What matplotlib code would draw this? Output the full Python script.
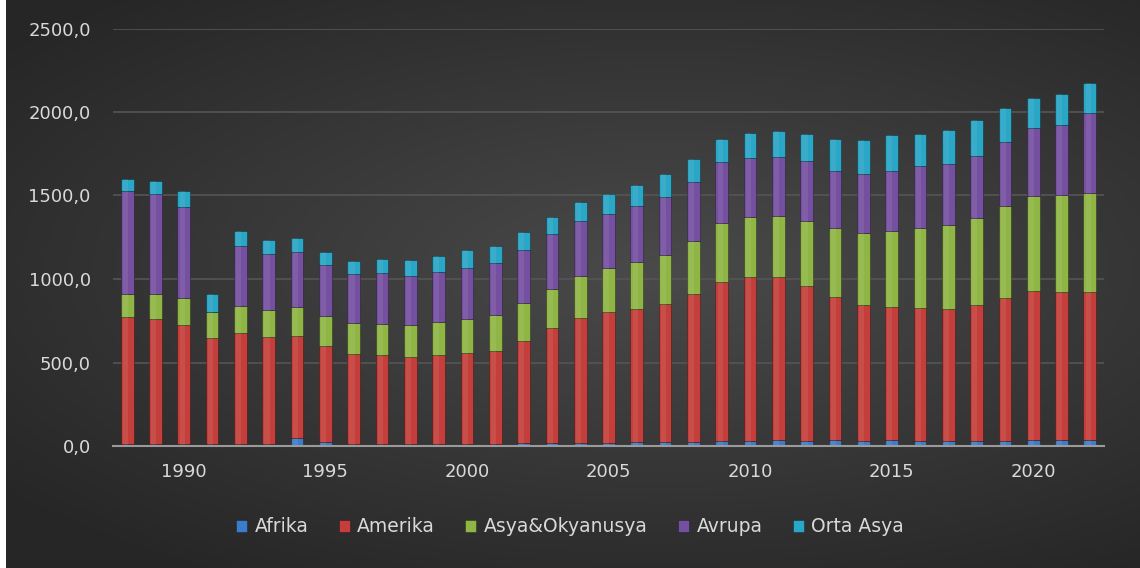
import numpy as np
import matplotlib
matplotlib.use("Agg")
import matplotlib.pyplot as plt
from matplotlib.ticker import FuncFormatter

years = list(range(1988, 2023))
afrika = [10, 10, 10, 10, 10, 10, 50, 26, 10, 12, 10, 14, 12, 12, 16, 16, 18, 20,
          24, 24, 26, 30, 30, 34, 32, 34, 32, 34, 32, 30, 30, 32, 34, 34, 34]
amerika = [760, 750, 714, 634, 664, 640, 610, 574, 538, 532, 524, 530, 546, 558, 612, 692, 749, 783,
           799, 825, 887, 953, 982, 975, 925, 859, 811, 799, 797, 793, 817, 855, 895, 889, 889]
asya_okyanusya = [139, 149, 163, 159, 165, 163, 173, 179, 186, 186, 190, 199, 202, 213, 229, 231, 250, 263,
                  279, 293, 315, 352, 359, 368, 390, 412, 433, 455, 477, 499, 518, 550, 568, 578, 592]
avrupa = [616, 602, 544, 0, 357, 339, 329, 303, 295, 306, 293, 299, 308, 310, 315, 332, 330, 325,
          335, 352, 354, 365, 353, 353, 357, 341, 355, 361, 368, 368, 371, 383, 407, 419, 478]
orta_asya = [72, 74, 94, 106, 90, 80, 82, 78, 77, 86, 95, 94, 108, 107, 108, 102, 112, 120,
             128, 133, 138, 140, 152, 154, 166, 190, 199, 211, 196, 200, 214, 205, 181, 185, 182]

series_names = ["Afrika", "Amerika", "Asya&Okyanusya", "Avrupa", "Orta Asya"]
series = [afrika, amerika, asya_okyanusya, avrupa, orta_asya]
colors = ["#3d7cc9", "#c43f3b", "#8fb545", "#7650a0", "#2aa6c6"]
ytick_vals = [0, 500, 1000, 1500, 2000, 2500]
xtick_years = [1990, 1995, 2000, 2005, 2010, 2015, 2020]

plt.rcParams['font.family'] = ['DejaVu Sans']
W, H = 1140, 568
fig = plt.figure(figsize=(W / 100, H / 100), dpi=100)
fig.patch.set_facecolor("white")

# background gradient
bg = fig.add_axes([6 / W, 0, 1 - 6 / W, 1], zorder=-10)
gy, gx = np.mgrid[0:200, 0:400]
cx, cy = 230, 95
d = np.sqrt(((gx - cx) / 400) ** 2 + ((gy - cy) / 170) ** 2)
d = np.clip(d / 0.75, 0, 1)
light = np.array([0x4a, 0x4a, 0x4a]) / 255
dark = np.array([0x26, 0x26, 0x26]) / 255
img = light[None, None, :] * (1 - d[..., None]) + dark[None, None, :] * d[..., None]
bg.imshow(img, aspect="auto", extent=[0, 1, 0, 1], interpolation="bilinear")
bg.set_axis_off()

ax = fig.add_axes([113 / W, (H - 446) / H, (1104 - 113) / W, (446 - 28.5) / H])
ax.patch.set_alpha(0)
x = np.arange(len(years))
bottom = np.zeros(len(years))
bars = []
for name, vals, c in zip(series_names, series, colors):
    vals = np.array(vals, dtype=float)
    b = ax.bar(x, vals, bottom=bottom, width=0.45, color=c, edgecolor=(0, 0, 0, 0.35),
               linewidth=0.6, label=name, zorder=3)
    # highlight stripe for bevel look
    ax.bar(x - 0.06, vals, bottom=bottom, width=0.18, color="white", alpha=0.08,
           linewidth=0, zorder=4)
    bars.append(b)
    bottom += vals

ax.set_ylim(0, 2500)
ax.set_xlim(-0.5, len(years) - 0.5)
ax.set_yticks(ytick_vals)
ax.yaxis.set_major_formatter(FuncFormatter(lambda v, p: f"{v:.1f}".replace(".", ",")))
ax.set_xticks([years.index(y) for y in xtick_years])
ax.set_xticklabels([str(y) for y in xtick_years])
ax.grid(axis="y", color="#555555", linewidth=1.2, zorder=0)
ax.set_axisbelow(True)
for s in ["top", "right", "left"]:
    ax.spines[s].set_visible(False)
ax.spines["bottom"].set_color("#9a9a9a")
ax.spines["bottom"].set_linewidth(1.5)
ax.spines["bottom"].set_zorder(5)
ax.tick_params(axis="both", length=0, colors="#d9d9d9", labelsize=13)
ax.tick_params(axis="y", pad=16)
ax.tick_params(axis="x", pad=12)

leg = fig.legend(handles=bars, labels=series_names, loc="center", ncol=5,
                 bbox_to_anchor=(0.5, (H - 527) / H), frameon=False,
                 fontsize=13.5, labelcolor="#d9d9d9", handlelength=0.6, handleheight=0.65,
                 handletextpad=0.4, columnspacing=1.6)

fig.savefig("out.png", dpi=100)
